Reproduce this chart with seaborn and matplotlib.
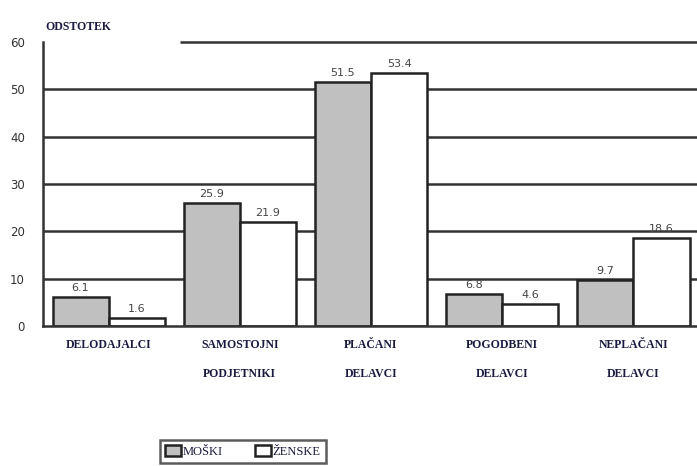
import matplotlib
matplotlib.use('Agg')
import matplotlib.pyplot as plt
import seaborn as sns
import pandas as pd

# data
categories = ["DELODAJALCI", "SAMOSTOJNI\nPODJETNIKI", "PLAČANI\nDELAVCI",
              "POGODBENI\nDELAVCI", "NEPLAČANI\nDELAVCI"]
moski = [6.1, 25.9, 51.5, 6.8, 9.7]
zenske = [1.6, 21.9, 53.4, 4.6, 18.6]
series = ["MOŠKI", "ŽENSKE"]
yticks = [0, 10, 20, 30, 40, 50, 60]

df = pd.DataFrame({
    "kat": categories * 2,
    "spol": [series[0]] * len(categories) + [series[1]] * len(categories),
    "odstotek": moski + zenske,
})

sns.set_style("white")
fig = plt.figure(figsize=(6.97, 4.66), dpi=100)
ax = fig.add_axes([43 / 697, 140 / 466, 1 - 43 / 697 + 0.003, 284 / 466])

sns.barplot(data=df, x="kat", y="odstotek", hue="spol",
            palette={"MOŠKI": "#c0c0c0", "ŽENSKE": "#ffffff"},
            edgecolor="#222222", linewidth=1.8, width=0.855, ax=ax,
            legend=True)
for p in ax.patches:
    p.set_zorder(5)

# gridlines behind the bars (top one is interrupted by the axis title)
ax.hlines(yticks[1:-1], -0.5, 4.5, color="#333333", lw=1.8, zorder=1)
ax.hlines(60, (180 - 43) / 131 - 0.5, 4.5, color="#333333", lw=1.8, zorder=1,
          clip_on=False)

for cont in ax.containers:
    ax.bar_label(cont, fmt="%.1f", padding=3, fontsize=8, color="#444444")

ax.set_xlim(-0.5, 4.5)
ax.set_ylim(0, 60)
ax.set_yticks(yticks)
ax.set_yticklabels([str(v) for v in yticks], fontsize=8.5, color="#333333")
ax.tick_params(axis="y", length=0, pad=13)
ax.tick_params(axis="x", length=0, pad=9)
ax.set_xticks(range(len(categories)))
ax.set_xticklabels(categories, fontsize=8.5, fontweight="bold", color="#1a1a40",
                   family="Liberation Serif", linespacing=2.9, va="top")
ax.set_xlabel("")
ax.set_ylabel("")
for s in ["top", "right"]:
    ax.spines[s].set_visible(False)
for s in ["left", "bottom"]:
    ax.spines[s].set_color("#333333")
    ax.spines[s].set_linewidth(1.8)
    ax.spines[s].set_zorder(6)

ax.text(0.004, 1.03, "ODSTOTEK", transform=ax.transAxes, fontsize=8.5,
        color="#1a1a40", family="Liberation Serif", fontweight="bold",
        ha="left", va="bottom", clip_on=False)

handles, labels = ax.get_legend_handles_labels()
ax.get_legend().remove()
leg = fig.legend(handles, labels, loc="upper left",
                 bbox_to_anchor=(160 / 697, 1 - 440 / 466), ncol=2,
                 prop={"family": "Liberation Serif", "size": 9},
                 frameon=True, fancybox=False, handlelength=1.3, handleheight=1.0,
                 handletextpad=0.1, columnspacing=2.6, borderpad=0.4,
                 borderaxespad=0)
leg.get_frame().set_edgecolor("#333333")
leg.get_frame().set_linewidth(1.8)
for t in leg.get_texts():
    t.set_color("#1a1a40")

fig.savefig("out.png", dpi=100)
